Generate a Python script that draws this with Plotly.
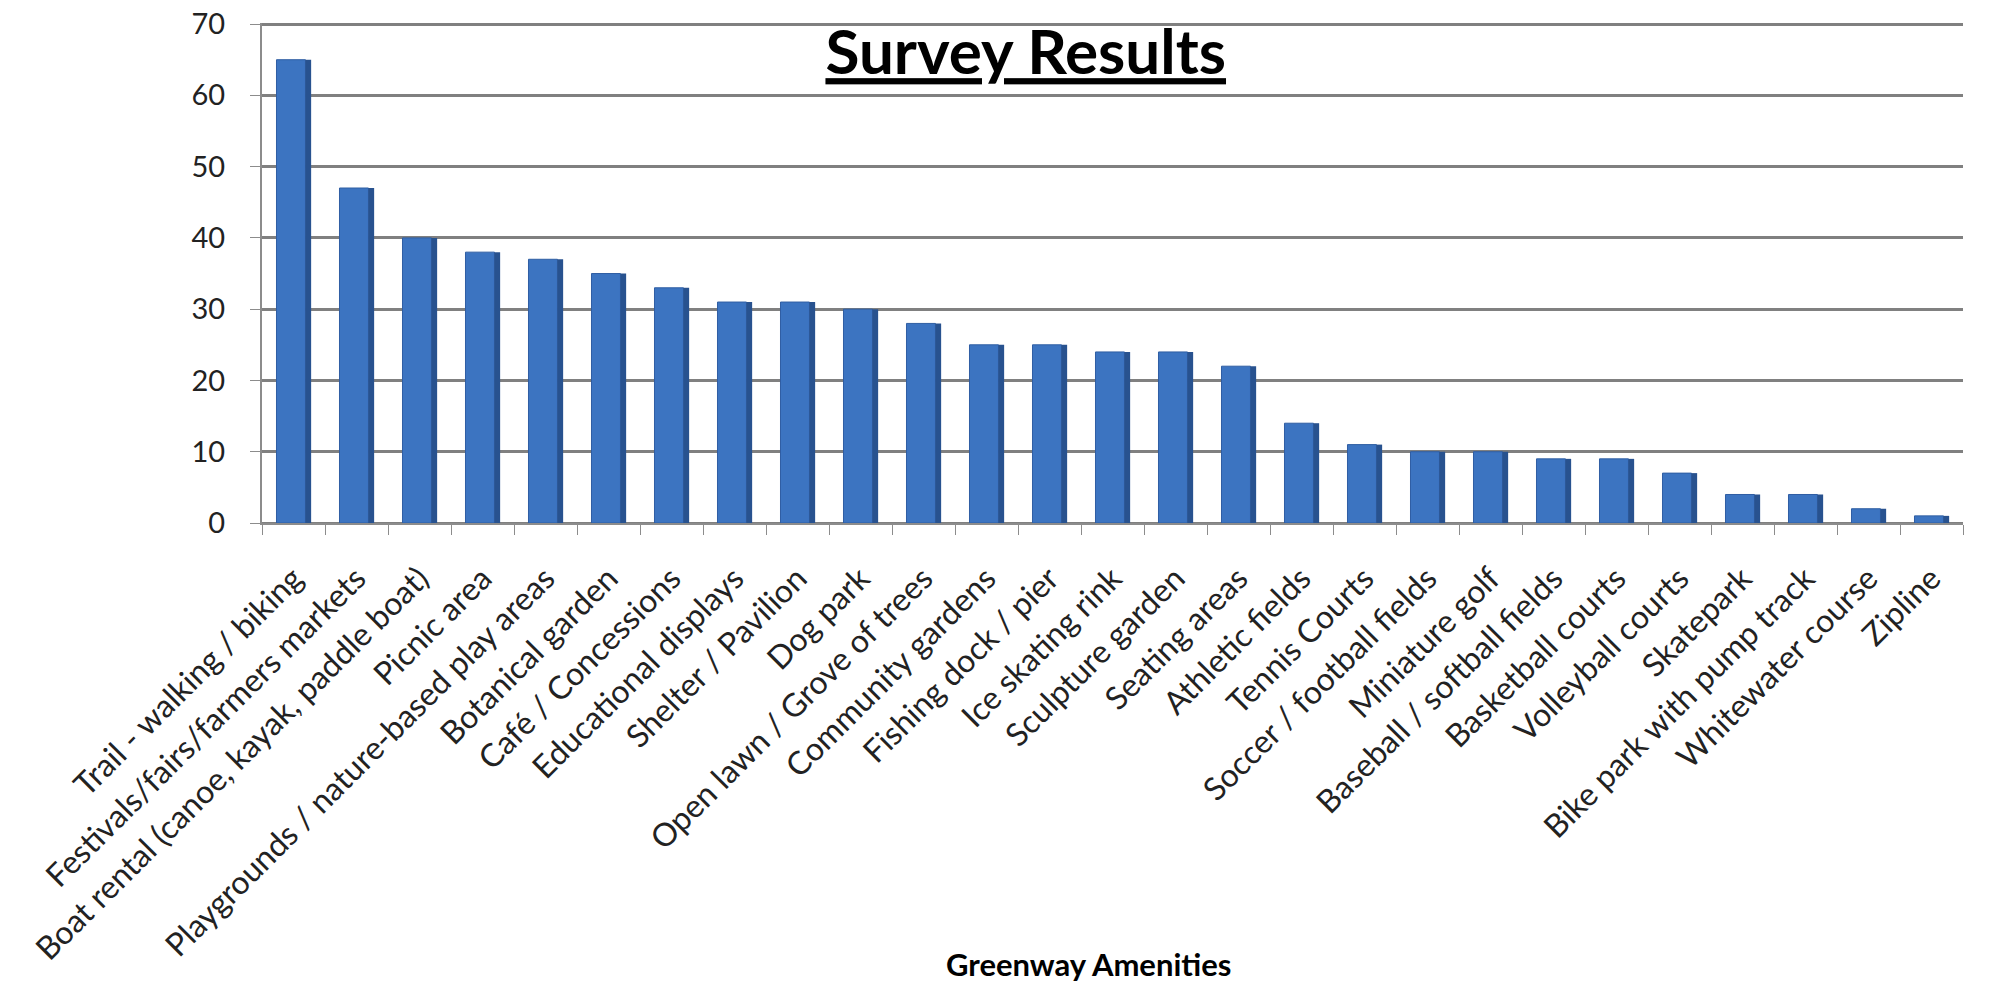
import plotly.graph_objects as go

categories = [
    "Trail - walking / biking", "Festivals/fairs/farmers markets",
    "Boat rental (canoe, kayak, paddle boat)", "Picnic area",
    "Playgrounds / nature-based play areas", "Botanical garden",
    "Café / Concessions", "Educational displays", "Shelter / Pavilion",
    "Dog park", "Open lawn / Grove of trees", "Community gardens",
    "Fishing dock / pier", "Ice skating rink", "Sculpture garden",
    "Seating areas", "Athletic fields", "Tennis Courts",
    "Soccer / football fields", "Miniature golf", "Baseball / softball fields",
    "Basketball courts", "Volleyball courts", "Skatepark",
    "Bike park with pump track", "Whitewater course", "Zipline",
]
values = [65, 47, 40, 38, 37, 35, 33, 31, 31, 30, 28, 25, 25, 24, 24, 22,
          14, 11, 10, 10, 9, 9, 7, 4, 4, 2, 1]
y_ticks = [0, 10, 20, 30, 40, 50, 60, 70]

FONT = "Lato, Carlito, 'Open Sans', sans-serif"

fig = go.Figure()
# front face of bars
fig.add_trace(go.Bar(
    x=categories, y=values, width=0.46, offset=-0.27,
    marker=dict(color="#3C74C1", line=dict(color="#2F5EA3", width=1)),
    showlegend=False, hoverinfo="x+y",
))
# darker side face to hint at the 3-D look
fig.add_trace(go.Bar(
    x=categories, y=values, width=0.09, offset=0.19,
    marker=dict(color="#28528F", line=dict(width=0)),
    showlegend=False, hoverinfo="skip",
))

fig.update_layout(
    width=1989, height=990,
    margin=dict(l=262, r=26, t=23, b=467),
    paper_bgcolor="white", plot_bgcolor="white",
    barmode="overlay",
    font=dict(family=FONT, color="#222222"),
    title=dict(
        text="<b>Survey Results</b>",
        x=0.449, xanchor="center", y=0.947, yanchor="middle",
        xref="paper", yref="container",
        font=dict(family=FONT, size=62, color="black", lineposition="under"),
    ),
    xaxis=dict(
        type="category", range=[-0.5, 26.5], automargin=False,
        tickangle=-45, tickfont=dict(family=FONT, size=32, color="#222222"),
        ticks="outside", tickson="boundaries", ticklen=10,
        ticklabelstandoff=22,
        tickcolor="#8c8c8c", showline=True, linecolor="#8c8c8c", linewidth=2,
        showgrid=False,
    ),
    yaxis=dict(
        range=[0, 70.15], tickvals=y_ticks, automargin=False,
        tickfont=dict(family=FONT, size=29, color="#222222"),
        ticks="outside", ticklen=10, tickcolor="#8c8c8c",
        ticklabelstandoff=19, ticklabeloverflow="allow",
        showline=True, linecolor="#8c8c8c", linewidth=2,
        showgrid=True, gridcolor="#808080", gridwidth=2.5,
        zeroline=True, zerolinecolor="#808080", zerolinewidth=2.5,
    ),
    annotations=[dict(
        text="<b>Greenway Amenities</b>", xref="paper", yref="paper",
        x=0.486, y=-0.882, xanchor="center", yanchor="middle",
        showarrow=False, font=dict(family=FONT, size=31, color="black"),
    )],
)

fig.write_html(
    "out.html",
    config={"displayModeBar": False},
    post_script="document.body.style.margin='0';document.body.style.overflow='hidden';",
)
